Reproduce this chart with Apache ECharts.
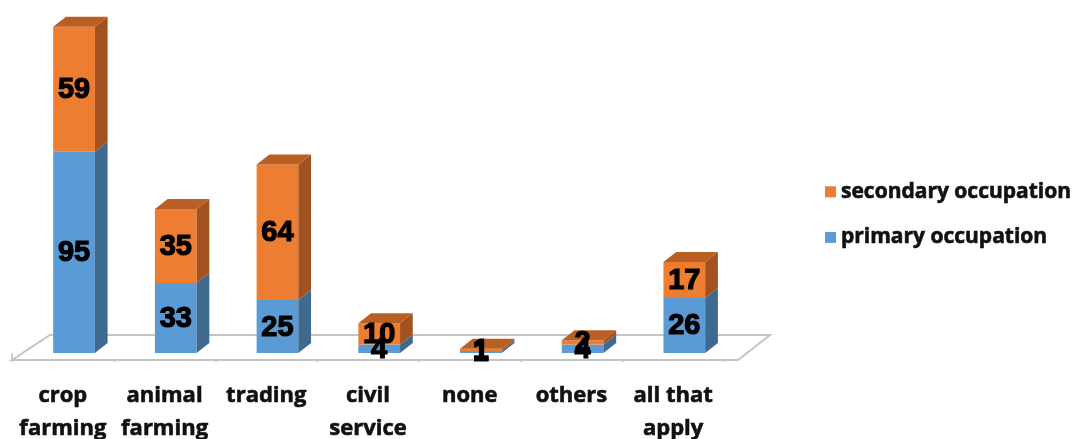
<!DOCTYPE html>
<html lang="en">
<head>
    <meta charset="UTF-8">
    <title>occupation</title>
    <script src="https://cdn.jsdelivr.net/npm/echarts@6/dist/echarts.min.js"></script>
    <style>
        html, body { margin: 0; padding: 0; background: #fff; }
        #container { width: 1089px; height: 439px; }
    </style>
</head>
<body>
<div id="container"></div>
<script>
    var categories = ['crop\nfarming', 'animal\nfarming', 'trading', 'civil\nservice', 'none', 'others', 'all that\napply'];
    var primary = [95, 33, 25, 4, 1, 4, 26];
    var secondary = [59, 35, 64, 10, 1, 2, 17];

    var blue = { front: '#5b9bd5', side: '#3e6a90', top: '#4a80b4' };
    var orange = { front: '#ed7d31', side: '#a3521f', top: '#b95f24' };

    // front face geometry of a stacked segment, relative to the band
    function box(api, i, lo, hi) {
        var pLo = api.coord([i, lo]);
        var pHi = api.coord([i, hi]);
        var bw = api.size([1, 0])[0];
        var w = bw * 0.41;
        return {
            x: pLo[0] + bw * 0.11 - w / 2,
            w: w,
            yLo: pLo[1],
            yHi: pHi[1],
            dx: bw * 0.125,
            dy: 10
        };
    }

    function segment(c, withTop) {
        return function (params, api) {
            var b = box(api, api.value(0), api.value(1), api.value(2));
            var kids = [
                { type: 'rect', shape: { x: b.x, y: b.yHi, width: b.w, height: b.yLo - b.yHi }, style: { fill: c.front } },
                { type: 'polygon', shape: { points: [[b.x + b.w, b.yLo], [b.x + b.w + b.dx, b.yLo - b.dy], [b.x + b.w + b.dx, b.yHi - b.dy], [b.x + b.w, b.yHi]] }, style: { fill: c.side } }
            ];
            if (withTop) {
                kids.push({ type: 'polygon', shape: { points: [[b.x, b.yHi], [b.x + b.dx, b.yHi - b.dy], [b.x + b.w + b.dx, b.yHi - b.dy], [b.x + b.w, b.yHi]] }, style: { fill: c.top } });
            }
            return { type: 'group', children: kids };
        };
    }

    var primaryData = [], secondaryData = [], labelData = [];
    for (var i = 0; i < categories.length; i++) {
        primaryData.push([i, 0, primary[i]]);
        secondaryData.push([i, primary[i], primary[i] + secondary[i]]);
        labelData.push([i, 0, primary[i]]);
        labelData.push([i, primary[i], primary[i] + secondary[i]]);
    }

    var myChart = echarts.init(document.getElementById('container'));
    var option = {
        animation: false,
        grid: { left: 12, right: 365, top: 14, bottom: 86, outerBoundsMode: 'none' },
        legend: {
            data: ['secondary occupation', 'primary occupation'],
            orient: 'vertical',
            left: 820,
            top: 176,
            itemGap: 24,
            itemWidth: 11,
            itemHeight: 11,
            icon: 'rect',
            textStyle: {
                fontFamily: 'Open Sans', fontWeight: 'bold', fontSize: 21, color: '#111',
                textBorderColor: '#111', textBorderWidth: 0.6
            }
        },
        xAxis: {
            type: 'category',
            data: categories,
            offset: 7,
            axisLine: { show: false },
            axisTick: { show: true, length: 9, lineStyle: { color: '#bfbfbf', width: 1.5 } },
            axisLabel: {
                margin: 19,
                interval: 0,
                fontFamily: 'Open Sans',
                fontWeight: 'bold',
                fontSize: 22,
                lineHeight: 33,
                color: '#111',
                textBorderColor: '#111',
                textBorderWidth: 0.6
            }
        },
        yAxis: { type: 'value', min: 0, max: 160, show: false },
        series: [
            {
                name: 'floor',
                type: 'custom',
                silent: true,
                z: 1,
                data: [[0]],
                renderItem: function (params, api) {
                    var bw = api.size([1, 0])[0];
                    var a = api.coord([0, 0]);
                    var b = api.coord([categories.length - 1, 0]);
                    var l = a[0] - bw / 2, r = b[0] + bw / 2, y = a[1] + 7;
                    return {
                        type: 'polygon',
                        shape: { points: [[l, y], [r + 14, y], [r + 46, y - 25], [l + 38, y - 25]] },
                        style: { fill: '#fff', stroke: '#c4c4c4', lineWidth: 2 }
                    };
                }
            },
            {
                name: 'primary occupation',
                type: 'custom',
                z: 2,
                itemStyle: { color: blue.front },
                data: primaryData,
                renderItem: segment(blue, false)
            },
            {
                name: 'secondary occupation',
                type: 'custom',
                z: 2,
                itemStyle: { color: orange.front },
                data: secondaryData,
                renderItem: segment(orange, true)
            },
            {
                name: 'labels',
                type: 'custom',
                silent: true,
                z: 5,
                data: labelData,
                renderItem: function (params, api) {
                    var b = box(api, api.value(0), api.value(1), api.value(2));
                    return {
                        type: 'text',
                        x: b.x + b.w / 2,
                        y: (b.yLo + b.yHi) / 2 + 1,
                        style: {
                            text: String(api.value(2) - api.value(1)),
                            fill: '#000',
                            stroke: '#000',
                            lineWidth: 1.2,
                            font: 'bold 29px "Liberation Sans", Arial, sans-serif',
                            align: 'center',
                            verticalAlign: 'middle'
                        }
                    };
                }
            }
        ]
    };
    myChart.setOption(option);
</script>
</body>
</html>
